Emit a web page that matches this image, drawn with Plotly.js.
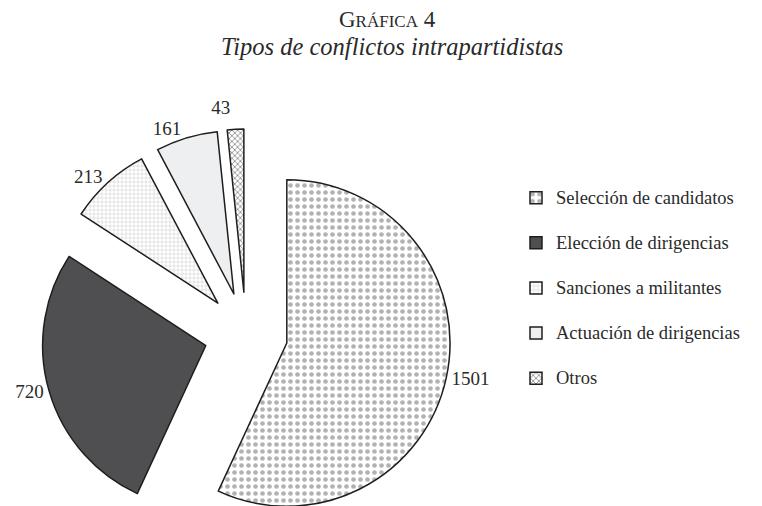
<!DOCTYPE html>
<html>
<head>
<meta charset="utf-8">
<script src="https://cdn.plot.ly/plotly-3.0.1.min.js"></script>
<style>
html,body{margin:0;padding:0;background:#fff;overflow:hidden;}
#wrap{width:762px;height:506px;overflow:hidden;}
path.textline{display:none;}
</style>
</head>
<body>
<div id="wrap"><div id="chart"></div></div>
<script>
// Data
var categories = ["Selección de candidatos", "Elección de dirigencias", "Sanciones a militantes", "Actuación de dirigencias", "Otros"];
var values = [1501, 720, 213, 161, 43];
var titleMain = 'G<span style="font-size:17px">RÁFICA</span> 4';
var titleSub = "Tipos de conflictos intrapartidistas";

// Styles
var fillColors = ["#ffffff", "#4f4f51", "#ffffff", "#eeeff1", "#ffffff"];
var patShapes = [".", "", "+", "", "x"];
var patFg = ["#b2b2b2", "#4f4f51", "#b8b8b8", "#eeeff1", "#6a6a6a"];
var patBg = ["#ffffff", "#4f4f51", "#ffffff", "#eeeff1", "#ffffff"];
var patSize = [7, 8, 4, 8, 4];
var patSolid = [0.35, 0.3, 0.18, 0.3, 0.3];

var H = 545;
var serif = "'Liberation Serif', 'Times New Roman', serif";
var txt = "#2a2a2a";

var trace = {
  type: "pie",
  labels: categories.map(function (c) {
    return '<span style="font-size:18.5px">' + c + '</span><br>&nbsp;';
  }),
  values: values,
  sort: false,
  direction: "clockwise",
  rotation: 0,
  pull: 0.256,
  textinfo: "value",
  textposition: "outside",
  outsidetextfont: {family: serif, size: 19, color: txt},
  hoverinfo: "skip",
  marker: {
    colors: fillColors,
    line: {color: "#1e1e1e", width: 1.5},
    pattern: {shape: patShapes, fgcolor: patFg, bgcolor: patBg, size: patSize, solidity: patSolid}
  },
  domain: {x: [41 / 762, 451 / 762], y: [0, 1]}
};

var layout = {
  width: 762,
  height: H,
  margin: {l: 0, r: 0, t: 129, b: 6},
  paper_bgcolor: "#ffffff",
  plot_bgcolor: "#ffffff",
  font: {family: serif, color: txt},
  title: {
    text: titleMain,
    font: {family: serif, size: 23, color: txt},
    xref: "container", x: 0.508, xanchor: "center",
    yref: "container", y: 1 - 11 / H, yanchor: "top"
  },
  annotations: [{
    text: "<i>" + titleSub + "</i>",
    font: {family: serif, size: 24.5, color: txt},
    xref: "paper", x: 0.514, xanchor: "center",
    yref: "paper", y: 1 + (129 - 46) / 410, yanchor: "middle",
    showarrow: false
  }],
  showlegend: true,
  legend: {
    orientation: "v",
    x: 516 / 762, xanchor: "left",
    y: 0.874, yanchor: "top",
    valign: "top",
    font: {family: serif, size: 16.2, color: txt},
    bgcolor: "rgba(0,0,0,0)",
    traceorder: "normal"
  }
};

Plotly.newPlot("chart", [trace], layout, {displayModeBar: false, staticPlot: true});
</script>
</body>
</html>
